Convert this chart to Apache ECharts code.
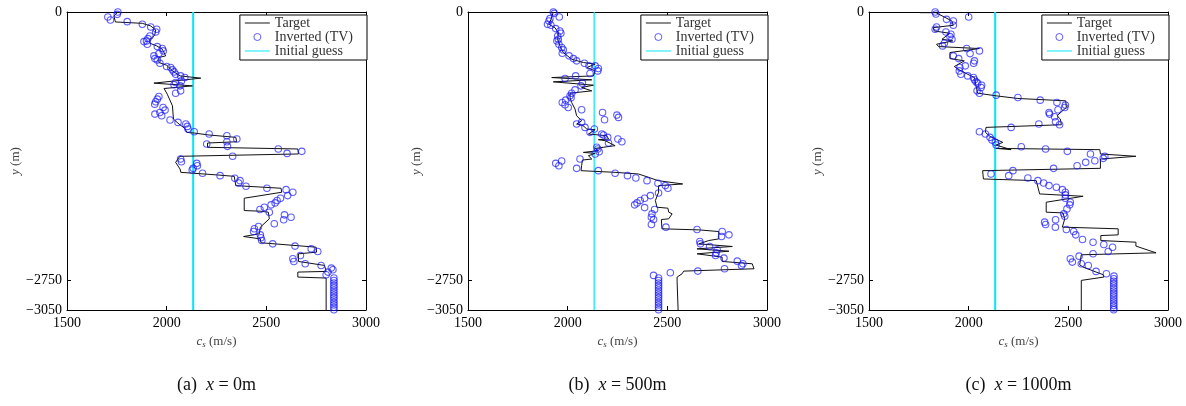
<!DOCTYPE html>
<html>
<head>
<meta charset="utf-8">
<script src="https://cdn.jsdelivr.net/npm/echarts@6/dist/echarts.min.js"></script>
<style>
html,body{margin:0;padding:0;background:#fff;}
#chart{width:1186px;height:406px;}
</style>
</head>
<body>
<div id="chart"></div>
<script>
// ---------- data (velocity c_s in m/s, y in m) ----------
const xTicks = [1500, 2000, 2500, 3000];
const yTicks = [0, -2750, -3050];
const captions = ['(a)', '(b)', '(c)'];
const positions = ['0m', '500m', '1000m'];
const initialGuess = 2133;

const targetA = [[1755,0],[1735,-41],[1743,-102],[1878,-116],[1920,-143],[1945,-184],[1940,-238],[1916,-279],[1916,-320],[1950,-347],[1978,-381],[1995,-449],[1961,-466],[1961,-517],[2000,-545],[2029,-603],[2067,-654],[2171,-677],[1936,-728],[2129,-756],[1987,-783],[2003,-841],[2029,-960],[2034,-1096],[2062,-1147],[2091,-1191],[2101,-1232],[2138,-1239],[2213,-1259],[2347,-1283],[2351,-1328],[2205,-1341],[2205,-1385],[2658,-1402],[2661,-1453],[2066,-1477],[2045,-1539],[2067,-1607],[2071,-1641],[2255,-1668],[2339,-1682],[2347,-1777],[2574,-1804],[2577,-1845],[2389,-1906],[2389,-2032],[2473,-2039],[2510,-2049],[2515,-2117],[2470,-2202],[2465,-2270],[2386,-2298],[2470,-2322],[2473,-2362],[2750,-2407],[2752,-2458],[2661,-2475],[2661,-2553],[2792,-2594],[2800,-2655],[2658,-2662],[2658,-2713],[2800,-2723],[2800,-3050]];

const invertedA = [[1755,0],[1752,-24],[1705,-51],[1718,-82],[1802,-99],[1878,-126],[1920,-153],[1950,-177],[1945,-204],[1916,-245],[1906,-272],[1899,-296],[1886,-303],[1903,-330],[1953,-354],[1978,-374],[1983,-398],[1961,-426],[1936,-449],[1941,-477],[1953,-490],[1966,-524],[2000,-558],[2020,-568],[2029,-592],[2037,-613],[2045,-637],[2070,-654],[2091,-671],[2074,-705],[2045,-722],[2037,-745],[2067,-756],[2070,-807],[2045,-831],[1961,-865],[1953,-892],[1945,-919],[1940,-943],[1982,-977],[1992,-1004],[1966,-1028],[1941,-1045],[1975,-1062],[2017,-1106],[2057,-1130],[2096,-1147],[2104,-1171],[2107,-1198],[2138,-1225],[2213,-1249],[2302,-1266],[2352,-1300],[2302,-1328],[2201,-1351],[2305,-1375],[2560,-1402],[2604,-1447],[2678,-1426],[2331,-1477],[2070,-1505],[2074,-1532],[2151,-1549],[2154,-1573],[2133,-1600],[2128,-1617],[2180,-1651],[2268,-1675],[2342,-1702],[2368,-1726],[2361,-1750],[2398,-1784],[2503,-1804],[2599,-1818],[2633,-1845],[2607,-1879],[2571,-1906],[2554,-1930],[2544,-1954],[2524,-1974],[2490,-1998],[2468,-2022],[2515,-2049],[2591,-2076],[2624,-2100],[2587,-2127],[2540,-2168],[2461,-2196],[2440,-2219],[2436,-2247],[2470,-2281],[2473,-2311],[2477,-2339],[2532,-2373],[2644,-2396],[2725,-2424],[2758,-2451],[2671,-2492],[2633,-2526],[2638,-2553],[2695,-2577],[2775,-2594],[2826,-2621],[2834,-2638],[2809,-2662],[2800,-2689],[2839,-2723],[2839,-2748],[2839,-2773],[2839,-2798],[2839,-2823],[2839,-2848],[2839,-2873],[2839,-2898],[2839,-2923],[2839,-2948],[2839,-2973],[2839,-2998],[2839,-3023],[2839,-3048]];

const targetB = [[1928,0],[1916,-75],[1906,-126],[1936,-160],[1953,-211],[1950,-279],[1961,-347],[1978,-415],[2020,-483],[2079,-517],[2138,-534],[2096,-568],[2138,-603],[2129,-654],[1920,-671],[2121,-694],[1928,-715],[2129,-749],[2070,-773],[2121,-807],[2012,-831],[2012,-875],[2020,-926],[2037,-994],[2045,-1062],[2070,-1113],[2045,-1147],[2074,-1157],[2096,-1198],[2138,-1205],[2146,-1225],[2104,-1249],[2196,-1266],[2205,-1300],[2154,-1307],[2188,-1317],[2238,-1368],[2138,-1396],[2154,-1419],[2079,-1437],[2138,-1447],[2104,-1471],[2121,-1505],[2074,-1515],[2070,-1573],[2067,-1624],[2238,-1641],[2355,-1658],[2406,-1692],[2453,-1726],[2577,-1760],[2456,-1777],[2456,-1845],[2440,-1930],[2448,-1998],[2503,-2008],[2507,-2049],[2524,-2066],[2507,-2117],[2470,-2124],[2473,-2219],[2658,-2230],[2758,-2247],[2758,-2322],[2708,-2339],[2658,-2373],[2826,-2400],[2649,-2424],[2809,-2448],[2649,-2475],[2775,-2509],[2775,-2553],[2926,-2577],[2935,-2628],[2582,-2652],[2574,-2679],[2549,-2713],[2549,-2757],[2554,-3050]];

const invertedB = [[1928,0],[1933,-14],[1958,-51],[1911,-68],[1906,-92],[1899,-126],[1916,-136],[1940,-170],[1961,-194],[1966,-218],[1950,-245],[1953,-279],[1946,-296],[1956,-330],[1970,-364],[1978,-388],[1973,-422],[2007,-449],[2029,-477],[2045,-500],[2084,-524],[2107,-551],[2138,-551],[2154,-579],[2151,-603],[2112,-630],[2040,-654],[1987,-681],[2074,-728],[2067,-756],[2037,-797],[2020,-831],[2012,-858],[2017,-878],[1990,-902],[1973,-926],[1987,-950],[2003,-977],[2070,-1001],[2175,-1028],[2247,-1055],[2255,-1079],[2185,-1103],[2070,-1130],[2045,-1147],[2087,-1181],[2134,-1198],[2112,-1232],[2171,-1249],[2180,-1259],[2201,-1283],[2252,-1300],[2272,-1328],[2205,-1341],[2146,-1385],[2151,-1402],[2158,-1430],[2138,-1453],[2062,-1505],[1970,-1525],[1940,-1549],[1956,-1573],[2045,-1600],[2154,-1624],[2238,-1651],[2300,-1675],[2342,-1699],[2398,-1726],[2453,-1753],[2490,-1777],[2503,-1804],[2456,-1852],[2415,-1879],[2386,-1906],[2364,-1930],[2348,-1954],[2336,-1974],[2386,-2002],[2436,-2022],[2423,-2066],[2420,-2100],[2431,-2124],[2420,-2175],[2493,-2202],[2649,-2226],[2775,-2247],[2809,-2281],[2772,-2298],[2663,-2349],[2666,-2373],[2712,-2400],[2750,-2434],[2745,-2465],[2742,-2492],[2784,-2519],[2851,-2550],[2879,-2577],[2872,-2594],[2787,-2628],[2653,-2652],[2515,-2669],[2431,-2696],[2456,-2723],[2456,-2748],[2456,-2773],[2456,-2798],[2456,-2823],[2456,-2848],[2456,-2873],[2456,-2898],[2456,-2923],[2456,-2948],[2456,-2973],[2456,-2998],[2456,-3023],[2456,-3048]];

const targetC = [[1755,-7],[1836,-7],[1916,-92],[1923,-136],[1822,-160],[1827,-194],[1906,-218],[1866,-279],[1920,-296],[1839,-330],[1849,-354],[2054,-374],[1906,-415],[1906,-477],[1978,-500],[1928,-558],[1953,-592],[1995,-637],[2029,-671],[2037,-756],[2045,-831],[2138,-858],[2247,-885],[2487,-909],[2490,-977],[2443,-1062],[2460,-1096],[2465,-1154],[2087,-1181],[2084,-1232],[2107,-1273],[2134,-1300],[2171,-1334],[2138,-1362],[2213,-1409],[2138,-1396],[2658,-1409],[2661,-1453],[2839,-1477],[2661,-1505],[2661,-1600],[2070,-1624],[2074,-1709],[2339,-1726],[2356,-1862],[2574,-1886],[2389,-1947],[2389,-2049],[2473,-2056],[2482,-2117],[2470,-2202],[2750,-2219],[2750,-2281],[2663,-2288],[2663,-2339],[2839,-2356],[2839,-2396],[2940,-2465],[2565,-2485],[2557,-2587],[2574,-2611],[2675,-2689],[2678,-2713],[2565,-2747],[2565,-3050]];

const invertedC = [[1832,0],[1836,-20],[2000,-51],[1889,-75],[1923,-92],[1923,-136],[1839,-153],[1832,-177],[1886,-204],[1911,-228],[1906,-252],[1916,-279],[1878,-320],[1869,-347],[1990,-374],[2054,-398],[2007,-426],[1923,-449],[1950,-477],[2029,-500],[2025,-524],[1983,-551],[1956,-568],[1953,-603],[1961,-637],[1995,-654],[2024,-671],[2029,-694],[2037,-715],[2045,-728],[2065,-749],[2062,-773],[2042,-807],[2054,-831],[2138,-851],[2247,-875],[2359,-902],[2443,-926],[2485,-953],[2482,-977],[2448,-1001],[2403,-1028],[2406,-1045],[2431,-1072],[2436,-1123],[2456,-1154],[2352,-1147],[2213,-1181],[2054,-1225],[2084,-1249],[2107,-1283],[2117,-1311],[2134,-1334],[2138,-1362],[2264,-1379],[2386,-1402],[2495,-1426],[2611,-1453],[2683,-1477],[2675,-1498],[2633,-1522],[2587,-1539],[2544,-1573],[2426,-1600],[2222,-1624],[2112,-1658],[2201,-1675],[2297,-1699],[2347,-1726],[2376,-1750],[2403,-1777],[2440,-1794],[2470,-1818],[2485,-1845],[2485,-1872],[2485,-1906],[2510,-1947],[2507,-1974],[2493,-2015],[2477,-2066],[2482,-2090],[2436,-2127],[2381,-2151],[2386,-2175],[2435,-2202],[2490,-2226],[2527,-2247],[2537,-2281],[2571,-2328],[2624,-2356],[2678,-2379],[2722,-2407],[2700,-2451],[2624,-2475],[2554,-2499],[2510,-2526],[2520,-2560],[2565,-2577],[2600,-2594],[2639,-2655],[2691,-2679],[2729,-2703],[2728,-2730],[2728,-2755],[2728,-2780],[2728,-2805],[2728,-2830],[2728,-2855],[2728,-2880],[2728,-2905],[2728,-2930],[2728,-2955],[2728,-2980],[2728,-3005],[2728,-3030],[2728,-3048]];

const panels = [
  {target: targetA, inverted: invertedA, guessWidth: 2},
  {target: targetB, inverted: invertedB, guessWidth: 1.2},
  {target: targetC, inverted: invertedC, guessWidth: 2}
];

// ---------- layout / styling ----------
const FONT = '"Liberation Serif", "DejaVu Serif", serif';
const CHART_W = 1186;
const GRID_LEFT0 = 67, GRID_STEP = 401, GRID_TOP = 12, GRID_W = 299, GRID_H = 298;
const BLUE = 'rgba(20,20,255,0.85)';
const CYAN = '#00e8f8';
const fmtY = v => (v < 0 ? '\u2212' + Math.abs(v) : String(v));
const fmtX = v => String(v);
// thin horizontal strip inside a 100x100 box (for legend line samples)
const LINE_ICON = 'path://M0,0 M0,43 L100,43 L100,57 L0,57 Z M100,100';

const grid = [], xAxis = [], yAxis = [], series = [], legend = [], graphic = [];

panels.forEach((p, i) => {
  const left = GRID_LEFT0 + i * GRID_STEP;
  grid.push({left: left, top: GRID_TOP, width: GRID_W, height: GRID_H, containLabel: false});
  const axisLine = {show: true, onZero: false, lineStyle: {color: '#000', width: 1}};
  xAxis.push({
    type: 'value', gridIndex: i, position: 'bottom', min: xTicks[0], max: xTicks[xTicks.length - 1], interval: 500,
    axisLine: axisLine, splitLine: {show: false},
    axisTick: {show: true, inside: true, length: 4, lineStyle: {color: '#000'}},
    axisLabel: {color: '#000', fontFamily: FONT, fontSize: 14, margin: 6, formatter: fmtX},
    name: '{i|c}{s|s} (m/s)', nameLocation: 'middle', nameGap: 24,
    nameTextStyle: {color: '#444', fontFamily: FONT, fontSize: 13,
      rich: {i: {fontStyle: 'italic', fontFamily: FONT, fontSize: 13, color: '#444'},
             s: {fontStyle: 'italic', fontFamily: FONT, fontSize: 9, color: '#444', verticalAlign: 'bottom', padding: [6, 0, 0, 0]}}}
  });
  xAxis.push({
    type: 'value', gridIndex: i, position: 'top', min: xTicks[0], max: xTicks[xTicks.length - 1], interval: 500,
    axisLine: axisLine, splitLine: {show: false},
    axisTick: {show: true, inside: true, length: 4, lineStyle: {color: '#000'}},
    axisLabel: {show: false}
  });
  yAxis.push({
    type: 'value', gridIndex: i, position: 'left', min: yTicks[2], max: yTicks[0],
    axisLine: axisLine, splitLine: {show: false},
    axisTick: {show: true, inside: true, length: 4, customValues: yTicks, lineStyle: {color: '#000'}},
    axisLabel: {color: '#000', fontFamily: FONT, fontSize: 14, margin: 5, customValues: yTicks, formatter: fmtY},
    name: '{i|y} (m)', nameLocation: 'middle', nameGap: 44, nameRotate: 90,
    nameTextStyle: {color: '#444', fontFamily: FONT, fontSize: 13,
      rich: {i: {fontStyle: 'italic', fontFamily: FONT, fontSize: 13, color: '#444'}}}
  });
  yAxis.push({
    type: 'value', gridIndex: i, position: 'right', min: yTicks[2], max: yTicks[0],
    axisLine: axisLine, splitLine: {show: false},
    axisTick: {show: true, inside: true, length: 4, customValues: yTicks, lineStyle: {color: '#000'}},
    axisLabel: {show: false}
  });
  const xi = i * 2, yi = i * 2;
  series.push({
    name: 'Target', type: 'line', xAxisIndex: xi, yAxisIndex: yi, data: p.target,
    symbol: 'none', lineStyle: {color: '#111', width: 1}, itemStyle: {color: '#111'},
    animation: false, z: 3
  });
  series.push({
    name: 'Inverted (TV)', type: 'scatter', xAxisIndex: xi, yAxisIndex: yi, data: p.inverted,
    symbol: 'circle', symbolSize: 6.5,
    itemStyle: {color: 'rgba(255,255,255,0)', borderColor: BLUE, borderWidth: 1.1},
    animation: false, z: 4
  });
  series.push({
    name: 'Initial guess', type: 'line', xAxisIndex: xi, yAxisIndex: yi,
    data: [[initialGuess, yTicks[0]], [initialGuess, yTicks[2]]],
    symbol: 'none', lineStyle: {color: CYAN, width: p.guessWidth}, itemStyle: {color: CYAN},
    animation: false, z: 2
  });
  legend.push({
    data: [
      {name: 'Target', icon: LINE_ICON, itemStyle: {color: '#111', borderWidth: 0}},
      {name: 'Inverted (TV)', itemStyle: {borderWidth: 1}},
      {name: 'Initial guess', icon: LINE_ICON, itemStyle: {color: CYAN, borderWidth: 0}}
    ],
    orient: 'vertical', right: CHART_W - (left + GRID_W) - 1, top: 15,
    itemWidth: 25, itemHeight: 7, itemGap: 0,
    symbolKeepAspect: false,
    padding: [1, 14, 2, 5],
    borderColor: '#000', borderWidth: 1, backgroundColor: '#fff',
    textStyle: {fontFamily: FONT, fontSize: 14, color: '#333', lineHeight: 14},
    selectedMode: false, z: 10
  });
  graphic.push({
    type: 'text', z: 10,
    style: {
      text: captions[i] + '  {i|x} = ' + positions[i],
      fontFamily: FONT, fontSize: 18, fill: '#111',
      rich: {i: {fontStyle: 'italic', fontFamily: FONT, fontSize: 18, color: '#111'}},
      x: left + GRID_W / 2, y: 385, align: 'center', verticalAlign: 'middle'
    }
  });
});

const chart = echarts.init(document.getElementById('chart'), null, {renderer: 'canvas'});
chart.setOption({
  animation: false,
  backgroundColor: '#fff',
  grid, xAxis, yAxis, series, legend, graphic
});
</script>
</body>
</html>
